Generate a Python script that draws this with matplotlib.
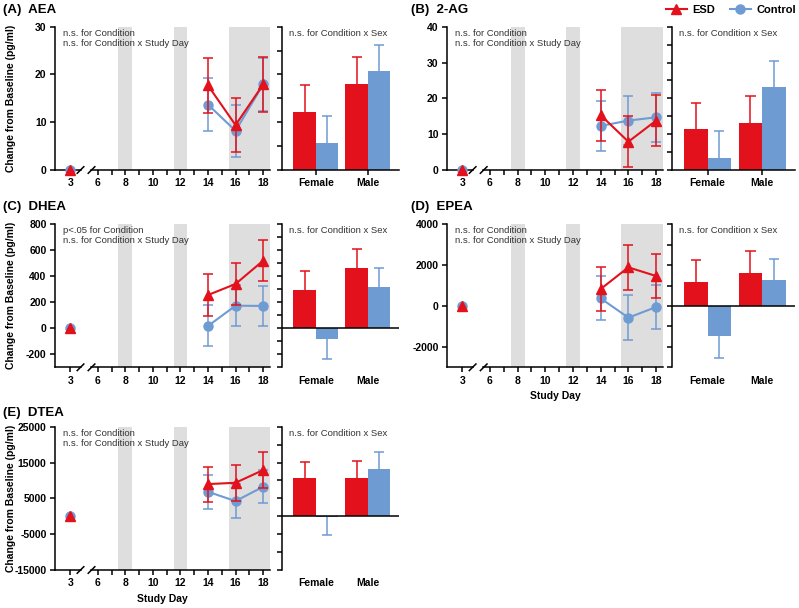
import numpy as np
import matplotlib
matplotlib.use("Agg")
import matplotlib.pyplot as plt
import matplotlib.transforms as mtransforms
from matplotlib.lines import Line2D

plt.rcParams['font.family'] = ['Liberation Sans', 'DejaVu Sans']
plt.rcParams['font.size'] = 7.5
plt.rcParams['axes.linewidth'] = 1.1

RED = '#e3111b'
BLUE = '#6f9bd3'
SHADE = '#dedede'
NOTE = '#333333'

# ---- data -------------------------------------------------------------------
days = ['3', '14', '16', '18']
day_pos = [4, 14, 16, 18]          # day 3 is drawn just before the axis break
sexes = ['Female', 'Male']

# (A) AEA
aea_esd = [0, 17.7, 9.4, 17.9]
aea_esd_err = [5.7, 5.7, 5.7]
aea_ctrl = [0, 13.7, 8.2, 17.9]
aea_ctrl_err = [5.5, 5.5, 5.5]
aea_bar_esd = [12.1, 18.1]
aea_bar_esd_err = [5.6, 5.6]
aea_bar_ctrl = [5.7, 20.7]
aea_bar_ctrl_err = [5.6, 5.4]

# (B) 2-AG
ag_esd = [0, 15.3, 7.9, 13.8]
ag_esd_err = [7.1, 7.2, 7.0]
ag_ctrl = [0, 12.3, 13.8, 14.7]
ag_ctrl_err = [7.0, 6.9, 6.9]
ag_bar_esd = [11.4, 13.2]
ag_bar_esd_err = [7.4, 7.5]
ag_bar_ctrl = [3.4, 23.2]
ag_bar_ctrl_err = [7.5, 7.2]

# (C) DHEA
dhea_esd = [0, 256, 341, 520]
dhea_esd_err = [165, 160, 160]
dhea_ctrl = [0, 18, 174, 172]
dhea_ctrl_err = [158, 156, 153]
dhea_bar_esd = [297, 467]
dhea_bar_esd_err = [147, 146]
dhea_bar_ctrl = [-85, 320]
dhea_bar_ctrl_err = [151, 142]

# (D) EPEA
epea_esd = [0, 833, 1894, 1469]
epea_esd_err = [1090, 1100, 1100]
epea_ctrl = [0, 375, -571, -49]
epea_ctrl_err = [1080, 1090, 1090]
epea_bar_esd = [1192, 1633]
epea_bar_esd_err = [1061, 1061]
epea_bar_ctrl = [-1453, 1273]
epea_bar_ctrl_err = [1078, 1013]

# (E) DTEA
dtea_esd = [0, 8977, 9349, 12884]
dtea_esd_err = [4900, 5000, 5000]
dtea_ctrl = [0, 6837, 4233, 8233]
dtea_ctrl_err = [4700, 4650, 4650]
dtea_bar_esd = [10648, 10648]
dtea_bar_esd_err = [4630, 4815]
dtea_bar_ctrl = [-300, 13241]
dtea_bar_ctrl_err = [4793, 4629]

W, H = 799, 608
fig = plt.figure(figsize=(W / 100, H / 100), dpi=100)


def px_axes(left, top, right, bottom):
    return fig.add_axes([left / W, 1 - bottom / H, (right - left) / W, (bottom - top) / H])


def line_panel(ax, esd, esd_err, ctrl, ctrl_err, ylim, yticks, note, ylabel, xlabel):
    for lo, hi in [(7.5, 8.5), (11.5, 12.5), (15.5, 18.5)]:
        ax.axvspan(lo, hi, color=SHADE, lw=0, zorder=0)
    # baseline day 3
    ax.plot(day_pos[:1], ctrl[:1], 'o', color=BLUE, ms=6.5, zorder=3, clip_on=False)
    ax.plot(day_pos[:1], esd[:1], '^', color=RED, ms=7.5, zorder=4, clip_on=False)
    ax.errorbar(day_pos[1:], ctrl[1:], yerr=ctrl_err, fmt='-o', color=BLUE, ms=6.5,
                lw=1.5, elinewidth=1.1, capsize=3.8, capthick=1.1, zorder=3, clip_on=False)
    ax.errorbar(day_pos[1:], esd[1:], yerr=esd_err, fmt='-^', color=RED, ms=7.5,
                lw=1.5, elinewidth=1.1, capsize=3.8, capthick=1.1, zorder=4, clip_on=False)
    ax.set_xlim(2.9, 18.5)
    ax.set_ylim(*ylim)
    ax.set_yticks(yticks)
    ax.set_yticklabels([str(t) for t in yticks], fontweight='bold')
    ax.set_xticks([4, 6, 8, 10, 12, 14, 16, 18])
    ax.set_xticklabels(['3', '6', '8', '10', '12', '14', '16', '18'], fontweight='bold')
    ax.set_xticks([7, 9, 11, 13, 15, 17], minor=True)
    ax.tick_params(which='both', direction='out', length=3.6, width=1.1, pad=2.5)
    for s in ['top', 'right', 'bottom']:
        ax.spines[s].set_visible(False)
    # broken x axis
    tr = mtransforms.blended_transform_factory(ax.transData, ax.transAxes)
    ax.add_line(Line2D([2.9, 4.8], [0, 0], transform=tr, color='k', lw=1.1, clip_on=False))
    ax.add_line(Line2D([5.5, 18.5], [0, 0], transform=tr, color='k', lw=1.1, clip_on=False))
    for c in [4.75, 5.55]:
        ax.add_line(Line2D([c - 0.24, c + 0.24], [-0.023, 0.023], transform=tr,
                           color='k', lw=1.1, clip_on=False))
    ax.text(0.035, 0.985, note, transform=ax.transAxes, va='top', ha='left',
            fontsize=6.8, color=NOTE, linespacing=1.15)
    if ylabel:
        ax.set_ylabel('Change from Baseline (pg/ml)', fontweight='bold', fontsize=7.5)
        ax.yaxis.set_label_coords(-0.18, 0.5)
    if xlabel:
        ax.set_xlabel('Study Day', fontweight='bold', fontsize=7.5, labelpad=4)


def bar_panel(ax, b_esd, b_esd_err, b_ctrl, b_ctrl_err, ylim, minor_step):
    x = np.arange(len(sexes))
    w = 0.43
    cap = 0.095
    for vals, errs, off, col in [(b_esd, b_esd_err, -w / 2, RED), (b_ctrl, b_ctrl_err, w / 2, BLUE)]:
        ax.bar(x + off, vals, width=w, color=col, zorder=2)
        # one-sided error bars pointing away from zero
        ends = [v + e if v >= 0 else v - e for v, e in zip(vals, errs)]
        ax.vlines(x + off, vals, ends, color=col, lw=1.1, zorder=1)
        ax.hlines(ends, x + off - cap, x + off + cap, color=col, lw=1.1, zorder=1)
    ax.set_xlim(-0.65, 1.6)
    ax.set_ylim(*ylim)
    ax.set_yticks(np.arange(ylim[0], ylim[1] + minor_step / 2, minor_step))
    ax.set_yticklabels([])
    ax.set_xticks(x)
    ax.set_xticklabels(sexes, fontweight='bold')
    for s in ['top', 'right']:
        ax.spines[s].set_visible(False)
    ax.tick_params(axis='y', direction='out', length=3.6, width=1.1)
    if ylim[0] < 0:
        ax.spines['bottom'].set_visible(False)
        ax.axhline(0, color='k', lw=1.1, zorder=3)
        ax.tick_params(axis='x', length=0, pad=6)
    else:
        ax.tick_params(axis='x', direction='out', length=3.6, width=1.1, pad=2.5)
    ax.text(0.06, 0.985, 'n.s. for Condition x Sex', transform=ax.transAxes, va='top',
            ha='left', fontsize=6.8, color=NOTE)


ns_note = 'n.s. for Condition\nn.s. for Condition x Study Day'
p_note = 'p<.05 for Condition\nn.s. for Condition x Study Day'

rows = [(26.7, 170), (224.3, 367.3), (426.7, 570)]
left_cols = [(55, 270), (282, 399)]
right_cols = [(447, 663), (672, 795)]

panels = [
    ('(A)  AEA', left_cols, rows[0], aea_esd, aea_esd_err, aea_ctrl, aea_ctrl_err,
     aea_bar_esd, aea_bar_esd_err, aea_bar_ctrl, aea_bar_ctrl_err,
     (0, 30), [0, 10, 20, 30], 5, ns_note, True, False),
    ('(B)  2-AG', right_cols, rows[0], ag_esd, ag_esd_err, ag_ctrl, ag_ctrl_err,
     ag_bar_esd, ag_bar_esd_err, ag_bar_ctrl, ag_bar_ctrl_err,
     (0, 40), [0, 10, 20, 30, 40], 5, ns_note, False, False),
    ('(C)  DHEA', left_cols, rows[1], dhea_esd, dhea_esd_err, dhea_ctrl, dhea_ctrl_err,
     dhea_bar_esd, dhea_bar_esd_err, dhea_bar_ctrl, dhea_bar_ctrl_err,
     (-300, 800), [-200, 0, 200, 400, 600, 800], 100, p_note, True, False),
    ('(D)  EPEA', right_cols, rows[1], epea_esd, epea_esd_err, epea_ctrl, epea_ctrl_err,
     epea_bar_esd, epea_bar_esd_err, epea_bar_ctrl, epea_bar_ctrl_err,
     (-3000, 4000), [-2000, 0, 2000, 4000], 1000, ns_note, False, True),
    ('(E)  DTEA', left_cols, rows[2], dtea_esd, dtea_esd_err, dtea_ctrl, dtea_ctrl_err,
     dtea_bar_esd, dtea_bar_esd_err, dtea_bar_ctrl, dtea_bar_ctrl_err,
     (-15000, 25000), [-15000, -5000, 5000, 15000, 25000], 5000, ns_note, True, True),
]

title_pos = {'(A)  AEA': (3, 10), '(B)  2-AG': (411, 10), '(C)  DHEA': (3, 207),
             '(D)  EPEA': (411, 207), '(E)  DTEA': (3, 413)}

for (title, cols, (top, bottom), esd, esd_err, ctrl, ctrl_err,
     b_esd, b_esd_err, b_ctrl, b_ctrl_err, ylim, yticks, mstep, note, ylab, xlab) in panels:
    ax_l = px_axes(cols[0][0], top, cols[0][1], bottom)
    ax_b = px_axes(cols[1][0], top, cols[1][1], bottom)
    line_panel(ax_l, esd, esd_err, ctrl, ctrl_err, ylim, yticks, note, ylab, xlab)
    bar_panel(ax_b, b_esd, b_esd_err, b_ctrl, b_ctrl_err, ylim, mstep)
    tx, ty = title_pos[title]
    fig.text(tx / W, 1 - ty / H, title, fontsize=9.5, fontweight='bold', va='center', ha='left')

handles = [Line2D([], [], color=RED, marker='^', ms=7.5, lw=1.5),
           Line2D([], [], color=BLUE, marker='o', ms=6.5, lw=1.5)]
fig.legend(handles, ['ESD', 'Control'], loc='upper right', bbox_to_anchor=(1.009, 1.008),
           ncol=2, frameon=False, prop=dict(weight='bold', size=8),
           handlelength=1.9, columnspacing=1.3, handletextpad=0.5)

fig.savefig('out.png', dpi=100)
